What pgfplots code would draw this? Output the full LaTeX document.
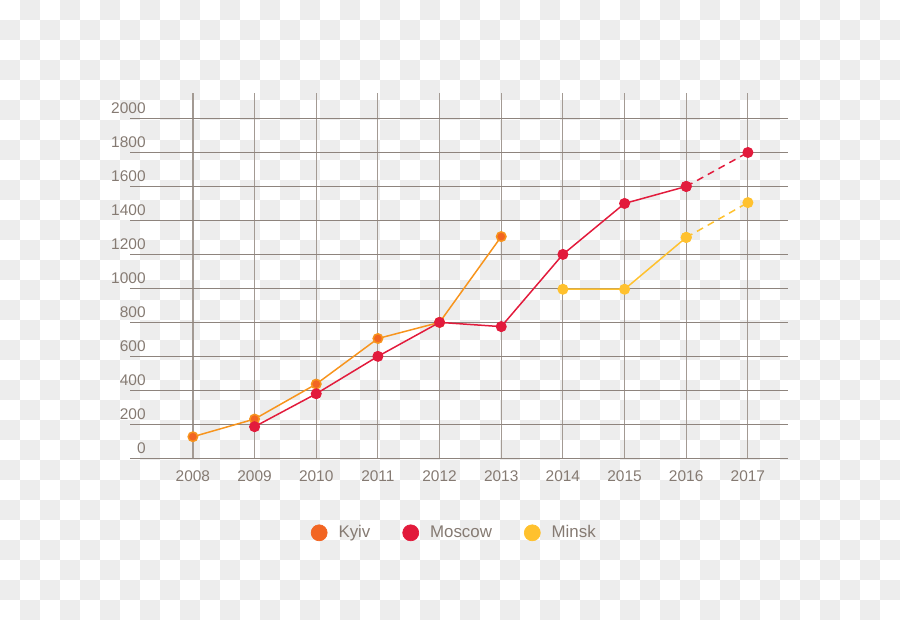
\documentclass[border=0pt]{standalone}
\usepackage{fontspec}
\setmainfont{Liberation Sans}
\usepackage{pgfplots}
\pgfplotsset{compat=1.18}
\definecolor{kyiv}{HTML}{F26522}
\definecolor{kyivline}{HTML}{F7941D}
\definecolor{moscow}{HTML}{E21B3C}
\definecolor{minsk}{HTML}{FFC12E}
\definecolor{txt}{HTML}{857A72}
\definecolor{hgrid}{HTML}{8E847D}
\definecolor{vgrid}{HTML}{A39A93}
\definecolor{chk}{HTML}{EDEDED}
\begin{document}
\begin{tikzpicture}
\useasboundingbox (0,0) rectangle (18,12.4);
\foreach \i in {0,...,44}{\foreach \j in {0,...,30}{%
  \pgfmathtruncatemacro{\k}{mod(\i+\j,2)}%
  \ifnum\k=1 \fill[chk] (\i*0.4,12.4-\j*0.4) rectangle ++(0.4,-0.4);\fi}}
\begin{axis}[
  at={(2.6cm,3.234cm)}, anchor=south west, scale only axis,
  width=13.16cm, height=7.306cm,
  xmin=2006.98, xmax=2017.65, ymin=0, ymax=2150,
  xtick={2008,...,2017}, ytick={0,200,...,2000},
  xmajorgrids, ymajorgrids,
  x grid style={color=vgrid, line width=0.7pt},
  y grid style={color=hgrid, line width=0.7pt},
  axis line style={draw=none},
  tick style={draw=none},
  major tick length=0pt,
  /pgf/number format/.cd, 1000 sep={}, assume math mode=true, /pgfplots/.cd,
  yticklabel style={anchor=east, inner sep=0pt, xshift=0.32cm, yshift=0.21cm, text=txt, font=\fontsize{8.8}{10}\selectfont},
  xticklabel style={anchor=center, inner sep=0pt, yshift=-0.36cm, text=txt, font=\fontsize{8.8}{10}\selectfont},
  legend columns=3,
  legend cell align=left,
  legend image code/.code={\fill (0.16cm,0cm) circle (0.16cm);},
  legend style={at={(0.2748,-0.204)}, anchor=west, draw=none, fill=none,
    inner sep=0pt, outer sep=0pt,
    font=\fontsize{9.6}{11}\selectfont,
    nodes={inner sep=0pt, text=txt},
    /tikz/every odd column/.style={column sep=0.22cm},
    /tikz/every even column/.style={column sep=0.64cm}},
]
\addlegendimage{color=kyiv}\addlegendentry{Kyiv}
\addlegendimage{color=moscow}\addlegendentry{Moscow}
\addlegendimage{color=minsk}\addlegendentry{Minsk}

\addplot[kyivline, line width=0.85pt, mark=*, mark size=2.7pt, mark options={draw=none, fill=kyiv}, forget plot]
  coordinates {(2008,127)(2009,231)(2010,437)(2011,705)(2012,800)(2013,1305)};
\addplot[moscow, line width=0.85pt, mark=*, mark size=2.7pt, mark options={draw=none, fill=moscow}, forget plot]
  coordinates {(2009,186)(2010,380)(2011,600)(2012,800)(2013,775)(2014,1200)(2015,1500)(2016,1600)};
\addplot[moscow, line width=0.85pt, dash pattern=on 4pt off 3pt, mark=*, mark size=2.7pt, mark options={solid, draw=none, fill=moscow}, forget plot]
  coordinates {(2016,1600)(2017,1800)};
\addplot[minsk, line width=0.85pt, mark=*, mark size=2.7pt, mark options={draw=none, fill=minsk}, forget plot]
  coordinates {(2014,995)(2015,995)(2016,1300)};
\addplot[minsk, line width=0.85pt, dash pattern=on 4pt off 3pt, mark=*, mark size=2.7pt, mark options={solid, draw=none, fill=minsk}, forget plot]
  coordinates {(2016,1300)(2017,1505)};
\end{axis}
\end{tikzpicture}
\end{document}
